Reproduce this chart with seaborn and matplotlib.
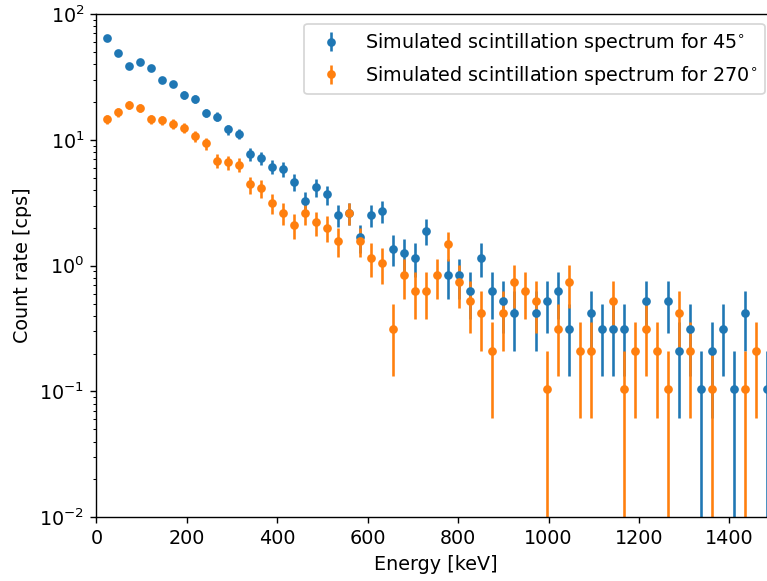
import numpy as np
import matplotlib
matplotlib.use("Agg")
import matplotlib.pyplot as plt
import seaborn as sns

# Bin-centre energies [keV]
energy = [24.3, 48.6, 72.9, 97.2, 121.5, 145.8, 170.1, 194.4, 218.7, 243.0,
          267.3, 291.6, 315.9, 340.2, 364.5, 388.8, 413.1, 437.4, 461.7, 486.0,
          510.3, 534.6, 558.9, 583.2, 607.5, 631.8, 656.1, 680.4, 704.7, 729.0,
          753.3, 777.6, 801.9, 826.2, 850.5, 874.8, 899.1, 923.4, 947.7, 972.0,
          996.3, 1020.6, 1044.9, 1069.2, 1093.5, 1117.8, 1142.1, 1166.4, 1190.7, 1215.0,
          1239.3, 1263.6, 1287.9, 1312.2, 1336.5, 1360.8, 1385.1, 1409.4, 1433.7, 1458.0,
          1482.3]

# Counts per bin (0 = no entry)
counts_45 = [609, 467, 367, 392, 352, 284, 264, 216, 200, 156,
             145, 115, 106, 73, 68, 58, 56, 44, 31, 40,
             35, 24, 25, 16, 24, 26, 13, 12, 11, 18,
             0, 8, 8, 6, 11, 6, 5, 4, 0, 4,
             5, 6, 3, 0, 4, 3, 3, 3, 0, 5,
             0, 5, 2, 3, 1, 2, 3, 1, 4, 0,
             1]
counts_270 = [138, 157, 180, 170, 138, 136, 127, 118, 101, 89,
              65, 63, 60, 42, 39, 30, 25, 20, 25, 21,
              19, 15, 25, 15, 11, 10, 3, 8, 6, 6,
              8, 14, 7, 5, 4, 2, 4, 7, 6, 5,
              1, 3, 7, 2, 2, 0, 5, 1, 2, 3,
              2, 1, 4, 2, 0, 1, 0, 0, 1, 2,
              0]
live_time = 9.5  # s

labels = ["Simulated scintillation spectrum for 45$^{\\circ}$",
          "Simulated scintillation spectrum for 270$^{\\circ}$"]

palette = sns.color_palette("tab10", 2)
plt.rcParams["font.size"] = 11

fig = plt.figure(figsize=(767 / 125, 581 / 125), dpi=125)
# axes extend slightly past the right edge of the (cropped) figure
ax = fig.add_axes([0.1258, 0.1096, 0.884, 0.8663])

for counts, lab, col in zip([counts_45, counts_270], labels, palette):
    c = np.array(counts, dtype=float)
    c[c == 0] = np.nan
    rate = c / live_time
    err = np.sqrt(c) / live_time
    ax.errorbar(energy, rate, yerr=err, fmt="o", ms=4, color=col,
                elinewidth=1.5, label=lab)

ax.set_yscale("log")
ax.set_ylim(1e-2, 1e2)
ax.set_xlim(0, 1500)
ax.set_xlabel("Energy [keV]")
ax.set_ylabel("Count rate [cps]")
ax.legend(loc="upper right")

fig.savefig("out.png", dpi=125)
